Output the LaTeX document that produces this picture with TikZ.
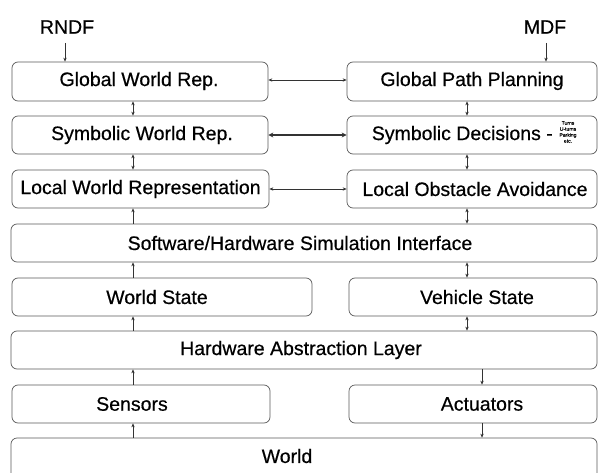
\documentclass[tikz,border=0pt]{standalone}
\usepackage{fontspec}
\setmainfont{Liberation Sans}[FakeBold=0.5]
\usetikzlibrary{arrows.meta}
\tikzset{
  box/.style={draw=black!65, line width=0.7pt, rounded corners=6pt, inner sep=0pt},
  lbl/.style={font=\fontsize{19.5}{23}\selectfont, inner sep=0pt, text=black},
  note/.style={font=\fontsize{5}{6}\selectfont, align=center, inner sep=0pt},
  arr/.style={line width=0.6pt, draw=black!80, -{Stealth[length=4pt,width=3.4pt]}},
  dbl/.style={line width=0.6pt, draw=black!80, {Stealth[length=4pt,width=3.4pt]}-{Stealth[length=4pt,width=3.4pt]}},
}
\newcommand{\layerbox}[5]{% name, x1, y1, x2, y2
  \node[box, minimum width={(#4-#2)*1pt}, minimum height={(#5-#3)*1pt}] (#1) at ({(#2+#4)/2},{(#3+#5)/2}) {};}
\begin{document}
\begin{tikzpicture}[x=1pt, y=-1pt]
\useasboundingbox (0,0) rectangle (599,473);
\clip (0,0) rectangle (599,473);

% layer boxes
\layerbox{gwr}{12}{62}{268}{101}
\layerbox{gpp}{347}{62}{597}{101}
\layerbox{swr}{12}{116}{268}{154}
\layerbox{sd}{347}{116}{597}{154}
\layerbox{lwr}{12}{170}{269}{208}
\layerbox{loa}{347}{170}{597}{208}
\layerbox{swi}{11}{224}{597}{262}
\layerbox{ws}{12}{278}{312}{316}
\layerbox{vs}{349}{278}{597}{316}
\layerbox{hal}{11}{331}{597}{369}
\layerbox{sen}{12}{385}{270}{423}
\layerbox{act}{349}{385}{597}{423}
\layerbox{world}{11}{438}{597}{495}

% labels
\node[lbl] (rndf) at (67,27) {RNDF};
\node[lbl] (mdf) at (545,27) {MDF};
\node[lbl] (gwr-t) at (139,81) {Global World Rep.};
\node[lbl] (gpp-t) at (472,81) {Global Path Planning};
\node[lbl] (swr-t) at (142,135) {Symbolic World Rep.};
\node[lbl, anchor=east] (sd-t) at (553,135) {Symbolic Decisions -};
\node[note] (sd-n) at (568,132) {Turns\\U-turns\\Parking\\etc.};
\node[lbl] (lwr-t) at (140.5,189) {Local World Representation};
\node[lbl] (loa-t) at (475,189) {Local Obstacle Avoidance};
\node[lbl] (swi-t) at (300,243) {Software/Hardware Simulation Interface};
\node[lbl] (ws-t) at (157,297) {World State};
\node[lbl] (vs-t) at (477,297) {Vehicle State};
\node[lbl] (hal-t) at (301,350) {Hardware Abstraction Layer};
\node[lbl] (sen-t) at (132,404) {Sensors};
\node[lbl] (act-t) at (482,404) {Actuators};
\node[lbl] (world-t) at (287,456) {World};

% connector columns
\coordinate (cl) at (133,0);
\coordinate (cr) at (467,0);
\coordinate (ca) at (482,0);
\coordinate (cin) at (65,0);
\coordinate (cmd) at (546,0);

% inputs
\draw[arr, shorten <=9pt] (rndf.south -| cin) -- (gwr.north -| cin);
\draw[arr, shorten <=9pt] (mdf.south -| cmd) -- (gpp.north -| cmd);

% left column
\draw[dbl] (gwr.south -| cl) -- (swr.north -| cl);
\draw[dbl] (swr.south -| cl) -- (lwr.north -| cl);
\draw[arr] (swi.north -| cl) -- (lwr.south -| cl);
\draw[arr] (ws.north -| cl) -- (swi.south -| cl);
\draw[arr] (hal.north -| cl) -- (ws.south -| cl);
\draw[arr] (sen.north -| cl) -- (hal.south -| cl);
\draw[arr] (world.north -| cl) -- (sen.south -| cl);

% right column
\draw[dbl] (gpp.south -| cr) -- (sd.north -| cr);
\draw[dbl] (sd.south -| cr) -- (loa.north -| cr);
\draw[dbl] (loa.south -| cr) -- (swi.north -| cr);
\draw[dbl] (swi.south -| cr) -- (vs.north -| cr);
\draw[dbl] (vs.south -| cr) -- (hal.north -| cr);
\draw[arr] (hal.south -| ca) -- (act.north -| ca);
\draw[arr] (act.south -| ca) -- (world.north -| ca);

% links between the two hierarchies
\draw[dbl] ([yshift=1.5pt]gwr.east) -- ([yshift=1.5pt]gpp.west);
\draw[line width=1.2pt, draw=black!80, {Stealth[length=5pt,width=5pt]}-{Stealth[length=5pt,width=5pt]}] (swr.east) -- (sd.west);
\draw[dbl] (lwr.east) -- (loa.west);
\end{tikzpicture}
\end{document}
